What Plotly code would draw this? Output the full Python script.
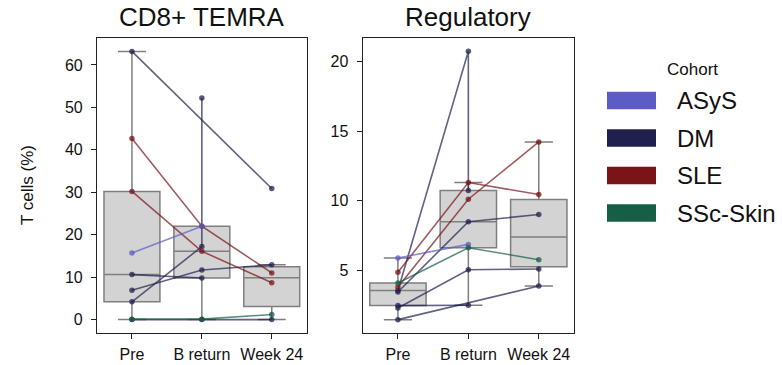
import numpy as np
import plotly.graph_objects as go

# ---------------- data ----------------
timepoints = ["Pre", "B return", "Week 24"]
cohorts = ["ASyS", "DM", "SLE", "SSc-Skin"]
cohort_colors = ["#5d5bc4", "#20204f", "#7a1419", "#165e45"]

patient_cohort = ["DM", "DM", "DM", "DM", "DM", "SLE", "SLE", "ASyS", "SSc-Skin"]
patient_times = [
    ["Pre", "Week 24"],
    ["Pre", "B return", "B return"],
    ["Pre", "B return"],
    ["Pre", "B return", "Week 24"],
    ["Pre", "B return", "Week 24"],
    ["Pre", "B return", "Week 24"],
    ["Pre", "B return", "Week 24"],
    ["Pre", "B return"],
    ["Pre", "B return", "Week 24"],
]
temra_values = [
    [63.2, 30.9],
    [4.2, 17.2, 52.2],
    [10.6, 9.8],
    [6.9, 11.7, 12.9],
    [0.0, 0.0, 0.0],
    [42.7, 22.0, 11.0],
    [30.2, 16.1, 8.7],
    [15.7, 22.0],
    [0.1, 0.1, 1.2],
]
treg_values = [
    [1.46, 3.88],
    [3.56, 20.75, 10.74],
    [2.47, 2.49],
    [2.30, 5.05, 5.10],
    [3.45, 8.50, 9.02],
    [4.86, 11.32, 10.46],
    [3.80, 10.12, 14.24],
    [5.89, 6.87],
    [4.10, 6.63, 5.77],
]
panel_titles = ["CD8+ TEMRA", "Regulatory"]
y_label = "T cells (%)"
legend_title = "Cohort"
left_ticks = [0, 10, 20, 30, 40, 50, 60]
right_ticks = [5, 10, 15, 20]

# ---------------- layout helpers ----------------
W, H = 782, 365
ML, MR, MT, MB = 97, 208, 38, 32
PW, PH = W - ML - MR, H - MT - MB


def px(x):
    return (x - ML) / PW


def py(y):
    return 1 - (y - MT) / PH


FONT = "Liberation Sans, Arial, sans-serif"
color_of = dict(zip(cohorts, cohort_colors))


def rgba(hexc, a):
    h = hexc.lstrip("#")
    r, g, b = int(h[0:2], 16), int(h[2:4], 16), int(h[4:6], 16)
    return f"rgba({r},{g},{b},{a})"


def box_stats(vals):
    v = np.asarray(vals, dtype=float)
    q1, med, q3 = np.percentile(v, [25, 50, 75])
    iqr = q3 - q1
    lo = v[v >= q1 - 1.5 * iqr].min()
    hi = v[v <= q3 + 1.5 * iqr].max()
    return q1, med, q3, lo, hi


fig = go.Figure()

panels = [(temra_values, "x", "y"), (treg_values, "x2", "y2")]

# boxes first (drawn below lines)
for values, xa, ya in panels:
    q1s, meds, q3s, los, his = [], [], [], [], []
    for t in timepoints:
        pooled = [v for times, vals in zip(patient_times, values)
                  for tt, v in zip(times, vals) if tt == t]
        q1, med, q3, lo, hi = box_stats(pooled)
        q1s.append(q1); meds.append(med); q3s.append(q3); los.append(lo); his.append(hi)
    fig.add_trace(go.Box(
        x=timepoints, q1=q1s, median=meds, q3=q3s, lowerfence=los, upperfence=his,
        xaxis=xa, yaxis=ya, width=0.8, whiskerwidth=0.5,
        fillcolor="#d3d3d3", line=dict(color="#7f7f7f", width=1.5),
        boxpoints=False, showlegend=False, hoverinfo="skip",
    ))

# patient lines
for values, xa, ya in panels:
    for coh, times, vals in zip(patient_cohort, patient_times, values):
        c = color_of[coh]
        fig.add_trace(go.Scatter(
            x=times, y=vals, xaxis=xa, yaxis=ya, mode="lines+markers",
            line=dict(color=rgba(c, 0.7), width=1.6),
            marker=dict(color=rgba(c, 0.75), size=5.5),
            showlegend=False, hoverinfo="skip",
        ))

axis_common = dict(
    showline=True, linecolor="#222", linewidth=1.2, mirror=True,
    ticks="outside", ticklen=5, tickwidth=1, tickcolor="#222",
    showgrid=False, zeroline=False, automargin=False,
    tickfont=dict(family=FONT, size=16, color="#111"),
)

fig.update_layout(
    width=W, height=H, margin=dict(l=ML, r=MR, t=MT, b=MB, autoexpand=False),
    paper_bgcolor="white", plot_bgcolor="white", showlegend=False,
    xaxis=dict(domain=[0, px(306.7)], type="category", categoryorder="array",
               categoryarray=timepoints, range=[-0.5, 2.5], anchor="y",
               ticklabelstandoff=2, **axis_common),
    yaxis=dict(range=[-3.16, 66.36], tickvals=left_ticks, anchor="x",
               ticklabelstandoff=5, **axis_common),
    xaxis2=dict(domain=[px(362.7), 1], type="category", categoryorder="array",
                categoryarray=timepoints, range=[-0.5, 2.5], anchor="y2",
                ticklabelstandoff=2, **axis_common),
    yaxis2=dict(range=[0.50, 21.71], tickvals=right_ticks, anchor="x2",
                ticklabelstandoff=5, **axis_common),
)

annotations = []
for title, cx in zip(panel_titles, [201.8, 468.4]):
    annotations.append(dict(text=title, x=px(cx), y=py(17), xref="paper", yref="paper",
                            xanchor="center", yanchor="middle", showarrow=False,
                            font=dict(family=FONT, size=26, color="#111")))
annotations.append(dict(text=y_label, x=px(27), y=py(185), xref="paper", yref="paper",
                        xanchor="center", yanchor="middle", textangle=-90, showarrow=False,
                        font=dict(family=FONT, size=17, color="#111")))
annotations.append(dict(text=legend_title, x=px(692), y=py(69), xref="paper", yref="paper",
                        xanchor="center", yanchor="middle", showarrow=False,
                        font=dict(family=FONT, size=17, color="#111")))

shapes = []
for i, (coh, c) in enumerate(zip(cohorts, cohort_colors)):
    yc = 100.5 + i * 37.5
    shapes.append(dict(type="rect", xref="paper", yref="paper",
                       x0=px(607), x1=px(656), y0=py(yc + 8.7), y1=py(yc - 8.7),
                       fillcolor=c, line=dict(width=0)))
    annotations.append(dict(text=coh, x=px(675), y=py(yc), xref="paper", yref="paper",
                            xanchor="left", yanchor="middle", showarrow=False,
                            font=dict(family=FONT, size=24, color="#111")))

fig.update_layout(annotations=annotations, shapes=shapes)
fig.write_html("out.html")
